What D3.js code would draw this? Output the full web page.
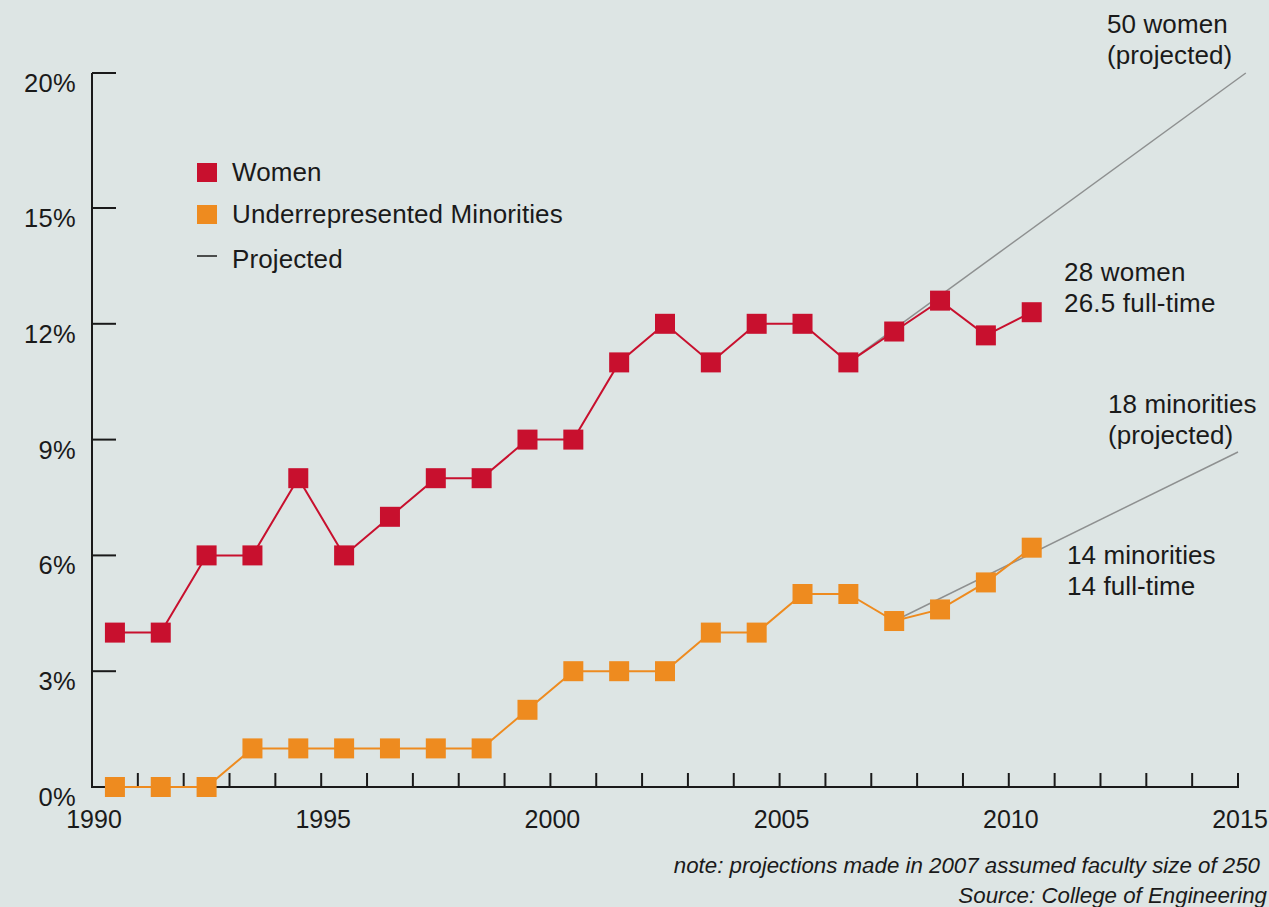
<!DOCTYPE html>
<html>
<head>
<meta charset="utf-8">
<script src="https://cdn.jsdelivr.net/npm/d3@7"></script>
<style>
  html, body { margin: 0; padding: 0; background: #dde5e4; }
  svg { display: block; }
  text { font-family: "Liberation Sans", Arial, Helvetica, sans-serif; fill: #1a1a1a; }
</style>
</head>
<body>
<svg id="chart" width="1269" height="907"></svg>
<script>
// ---- data ----
const years = [1990.5,1991.5,1992.5,1993.5,1994.5,1995.5,1996.5,1997.5,1998.5,1999.5,2000.5,
               2001.5,2002.5,2003.5,2004.5,2005.5,2006.5,2007.5,2008.5,2009.5,2010.5];
const women = [4,4,6,6,8,6,7,8,8,9,9,11,12,11,12,12,11,11.8,12.6,11.7,12.3];
const minorities = [0,0,0,1,1,1,1,1,1,2,3,3,3,4,4,5,5,4.3,4.6,5.3,6.2];
const womenProjYears = [2006.5, 2015.17];
const womenProjValues = [11, 20];
const minProjYears = [2007.5, 2015];
const minProjValues = [4.3, 8.68];
const yTicks = [0, 3, 6, 9, 12, 15, 20];
const xTickYears = d3.range(1991, 2016);
const xLabelYears = [1990, 1995, 2000, 2005, 2010, 2015];
const legendItems = ["Women", "Underrepresented Minorities", "Projected"];

// ---- scales ----
const x = d3.scaleLinear().domain([1990, 2015]).range([92, 1238]);
const y = d3.scaleLinear().domain([0, 15, 20]).range([787, 208, 73]);

const svg = d3.select("#chart");
const RED = "#c8102e", ORANGE = "#ee8b1f", GRAY = "#8e9090", INK = "#1a1a1a";

// ---- y axis ----
svg.append("line").attr("x1", x(1990)).attr("x2", x(1990))
  .attr("y1", y(20)).attr("y2", y(0)).attr("stroke", INK).attr("stroke-width", 2);
svg.selectAll(".ytick").data(yTicks).join("line")
  .attr("x1", x(1990)).attr("x2", x(1990) + 24)
  .attr("y1", d => y(d)).attr("y2", d => y(d))
  .attr("stroke", INK).attr("stroke-width", 2);
svg.selectAll(".ylab").data(yTicks).join("text")
  .attr("x", 76).attr("y", d => y(d) + 19)
  .attr("text-anchor", "end").attr("font-size", 25.5).attr("letter-spacing", 0.3)
  .text(d => d + "%");

// ---- x axis ----
svg.append("line").attr("x1", x(1990) - 1).attr("x2", x(2015) + 1)
  .attr("y1", y(0)).attr("y2", y(0)).attr("stroke", INK).attr("stroke-width", 2);
svg.selectAll(".xtick").data(xTickYears).join("line")
  .attr("x1", d => x(d)).attr("x2", d => x(d))
  .attr("y1", y(0)).attr("y2", y(0) - 14)
  .attr("stroke", INK).attr("stroke-width", 2);
svg.selectAll(".xlab").data(xLabelYears).join("text")
  .attr("x", d => x(d) + 2).attr("y", 828)
  .attr("text-anchor", "middle").attr("font-size", 25)
  .text(d => d);

// ---- projection lines ----
const line = d3.line().x(d => x(d[0])).y(d => y(d[1]));
svg.append("path").datum(d3.zip(womenProjYears, womenProjValues))
  .attr("d", line).attr("fill", "none").attr("stroke", GRAY).attr("stroke-width", 1.5);
svg.append("path").datum(d3.zip(minProjYears, minProjValues))
  .attr("d", line).attr("fill", "none").attr("stroke", GRAY).attr("stroke-width", 1.5);

// ---- series ----
function series(vals, color) {
  const pts = d3.zip(years, vals);
  svg.append("path").datum(pts).attr("d", line)
    .attr("fill", "none").attr("stroke", color).attr("stroke-width", 2);
  svg.append("g").selectAll("rect").data(pts).join("rect")
    .attr("x", d => x(d[0]) - 10).attr("y", d => y(d[1]) - 10)
    .attr("width", 20).attr("height", 20).attr("fill", color);
}
series(minorities, ORANGE);
series(women, RED);

// ---- legend ----
const lg = svg.append("g");
const lgY = [172, 214, 259];
lg.append("rect").attr("x", 197).attr("y", lgY[0] - 9).attr("width", 20).attr("height", 19).attr("fill", RED);
lg.append("rect").attr("x", 197).attr("y", lgY[1] - 9).attr("width", 20).attr("height", 19).attr("fill", ORANGE);
lg.append("line").attr("x1", 197).attr("x2", 217).attr("y1", lgY[2] - 3).attr("y2", lgY[2] - 3)
  .attr("stroke", INK).attr("stroke-width", 1.5);
lg.selectAll("text").data(legendItems).join("text")
  .attr("x", 232).attr("y", (d, i) => lgY[i] + 9)
  .attr("font-size", 26).attr("letter-spacing", 0.1).text(d => d);

// ---- annotations ----
function multi(lines, xx, yy, size, anchor, italic, ls) {
  const t = svg.append("text").attr("x", xx).attr("y", yy)
    .attr("font-size", size).attr("text-anchor", anchor || "start")
    .attr("letter-spacing", ls || 0);
  if (italic) t.attr("font-style", "italic");
  lines.forEach((s, i) => t.append("tspan").attr("x", xx).attr("dy", i ? 31 : 0).text(s));
}
multi(["50 women", "(projected)"], 1107, 33, 26, "start", false, 0.1);
multi(["28 women", "26.5 full-time"], 1064, 281, 26, "start", false, 0.2);
multi(["18 minorities", "(projected)"], 1108, 413, 26, "start", false, 0.1);
multi(["14 minorities", "14 full-time"], 1067, 564, 26, "start", false, 0.1);
multi(["note: projections made in 2007 assumed faculty size of 250"], 1260, 873, 22.3, "end", true);
multi(["Source: College of Engineering"], 1267, 903, 22.3, "end", true);
</script>
</body>
</html>
